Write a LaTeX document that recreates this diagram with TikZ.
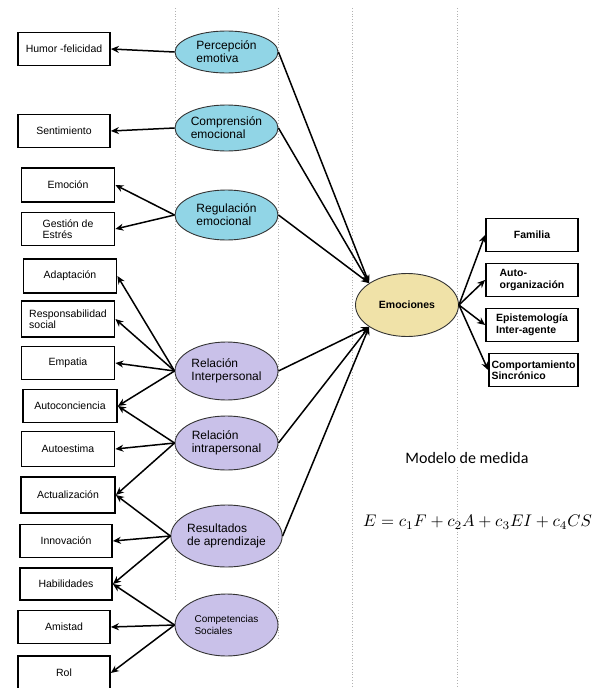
\documentclass[tikz,border=0pt]{standalone}
\usepackage{fontspec}
\setmainfont{Liberation Sans}
\newfontfamily\calibri{Carlito}
\usetikzlibrary{arrows.meta,shapes.geometric}
\definecolor{cyanfill}{RGB}{145,213,230}
\definecolor{lilafill}{RGB}{201,193,233}
\definecolor{trigofill}{RGB}{240,226,168}

\begin{document}
\begin{tikzpicture}[x=1pt,y=-1pt,
    box/.style={draw, line width=1.8pt, minimum width=92pt, minimum height=33pt,
      inner sep=1pt, align=left, font=\fontsize{10.5}{11.5}\selectfont},
    rbox/.style={box, font=\fontsize{10.5}{11.5}\selectfont\bfseries},
    factor/.style={ellipse, draw=black!80, line width=0.9pt, minimum width=103pt,
      minimum height=46pt, inner sep=0pt, align=left, font=\fontsize{12}{13}\selectfont},
    link/.style={line width=1.5pt, -{Stealth[length=8pt,width=7pt]}},
    guide/.style={gray!60, dotted, line width=0.8pt}]

  \useasboundingbox (0,0) rectangle (598,688);
  \foreach \x/\y in {175/600,278/640,352/688}
    \draw[guide] (\x,8) -- (\x,\y);
  \draw[guide] (457,8) -- (457,688);

  \node[box] (humor) at (64,49) {Humor -felicidad};
  \node[box] (sentimiento) at (64,131) {Sentimiento};
  \node[box, minimum width=93pt, minimum height=34pt] (emocion) at (68,185) {Emoción};
  \node[box, minimum width=93pt] (gestion) at (68,229) {Gestión de\\ Estrés};
  \node[box, minimum width=93pt, minimum height=34pt] (adaptacion) at (70,276) {Adaptación};
  \node[box, minimum width=93pt, minimum height=36pt] (responsabilidad) at (68,319) {Responsabilidad\\social};
  \node[box, minimum width=93pt] (empatia) at (68,363) {Empatia};
  \node[box, minimum width=94pt] (autoconciencia) at (70,406) {Autoconciencia};
  \node[box, minimum width=93pt, minimum height=35pt] (autoestima) at (68,449) {Autoestima};
  \node[box, minimum width=94pt, minimum height=36pt] (actualizacion) at (68,495) {Actualización};
  \node[box] (innovacion) at (66,541) {Innovación};
  \node[box, minimum height=32pt] (habilidades) at (66,584) {Habilidades};
  \node[box] (amistad) at (64,627) {Amistad};
  \node[box, minimum height=34pt] (rol) at (64,673) {Rol};

  \node[factor, fill=cyanfill, minimum height=42pt] (pe) at (226.5,52) {Percepción\\emotiva};
  \node[factor, fill=cyanfill] (ce) at (226.5,128) {Comprensión\\emocional};
  \node[factor, fill=cyanfill, minimum height=50pt] (re) at (226.5,215) {Regulación\\emocional};
  \node[factor, fill=lilafill, minimum height=58pt] (ri) at (226.5,371) {Relación\\Interpersonal};
  \node[factor, fill=lilafill, minimum height=54pt] (rp) at (226.5,443) {Relación\\intrapersonal};
  \node[factor, fill=lilafill, minimum height=62pt] (ra) at (226.5,536) {Resultados\\de aprendizaje};
  \node[factor, fill=lilafill, minimum height=62pt, font=\fontsize{10}{12}\selectfont] (cs) at (226.5,625) {Competencias\\Sociales};

  \node[factor, fill=trigofill, minimum height=63pt, align=center,
    font=\fontsize{10.5}{12}\selectfont\bfseries] (em) at (407,305) {Emociones};

  \node[rbox] (familia) at (532,235) {Familia};
  \node[rbox] (autoorg) at (532,280) {Auto-\\organización};
  \node[rbox] (epistem) at (532,325) {Epistemología\\Inter-agente};
  \node[rbox, minimum width=89pt, inner sep=0.5pt] (comport) at (533.5,370) {Comportamiento\\Sincrónico};

  \node[font=\calibri\fontsize{16}{18}\selectfont, fill=white, inner sep=2pt] (modelo) at (467,458) {Modelo de medida};
  \node (ecuacion) at (477.5,522) {\scalebox{1.68}{$E = c_1F + c_2A + c_3EI + c_4CS$}};

  \draw[link] (pe.west) -- (humor.east);
  \draw[link] (ce.west) -- (sentimiento.east);
  \draw[link] (re.west) -- (emocion.east);
  \draw[link] (re.west) -- (gestion.east);
  \draw[link] (ri.west) -- (adaptacion.east);
  \draw[link] (ri.west) -- (responsabilidad.east);
  \draw[link] (ri.west) -- (empatia.east);
  \draw[link] (ri.west) -- (autoconciencia.east);
  \draw[link] (rp.west) -- (autoconciencia.east);
  \draw[link] (rp.west) -- (autoestima.east);
  \draw[link] (rp.west) -- (actualizacion.east);
  \draw[link] (ra.west) -- (actualizacion.east);
  \draw[link] (ra.west) -- (innovacion.east);
  \draw[link] (ra.west) -- (habilidades.east);
  \draw[link] (cs.west) -- (habilidades.east);
  \draw[link] (cs.west) -- (amistad.east);
  \draw[link] (cs.west) -- (rol.east);

  \foreach \f in {pe,ce,re}
    \draw[link] (\f.east) -- (em.150);
  \foreach \f in {ri,rp,ra}
    \draw[link] (\f.east) -- (em.210);

  \foreach \r in {familia,autoorg,epistem,comport}
    \draw[link] (em.east) -- (\r.west);
\end{tikzpicture}
\end{document}
